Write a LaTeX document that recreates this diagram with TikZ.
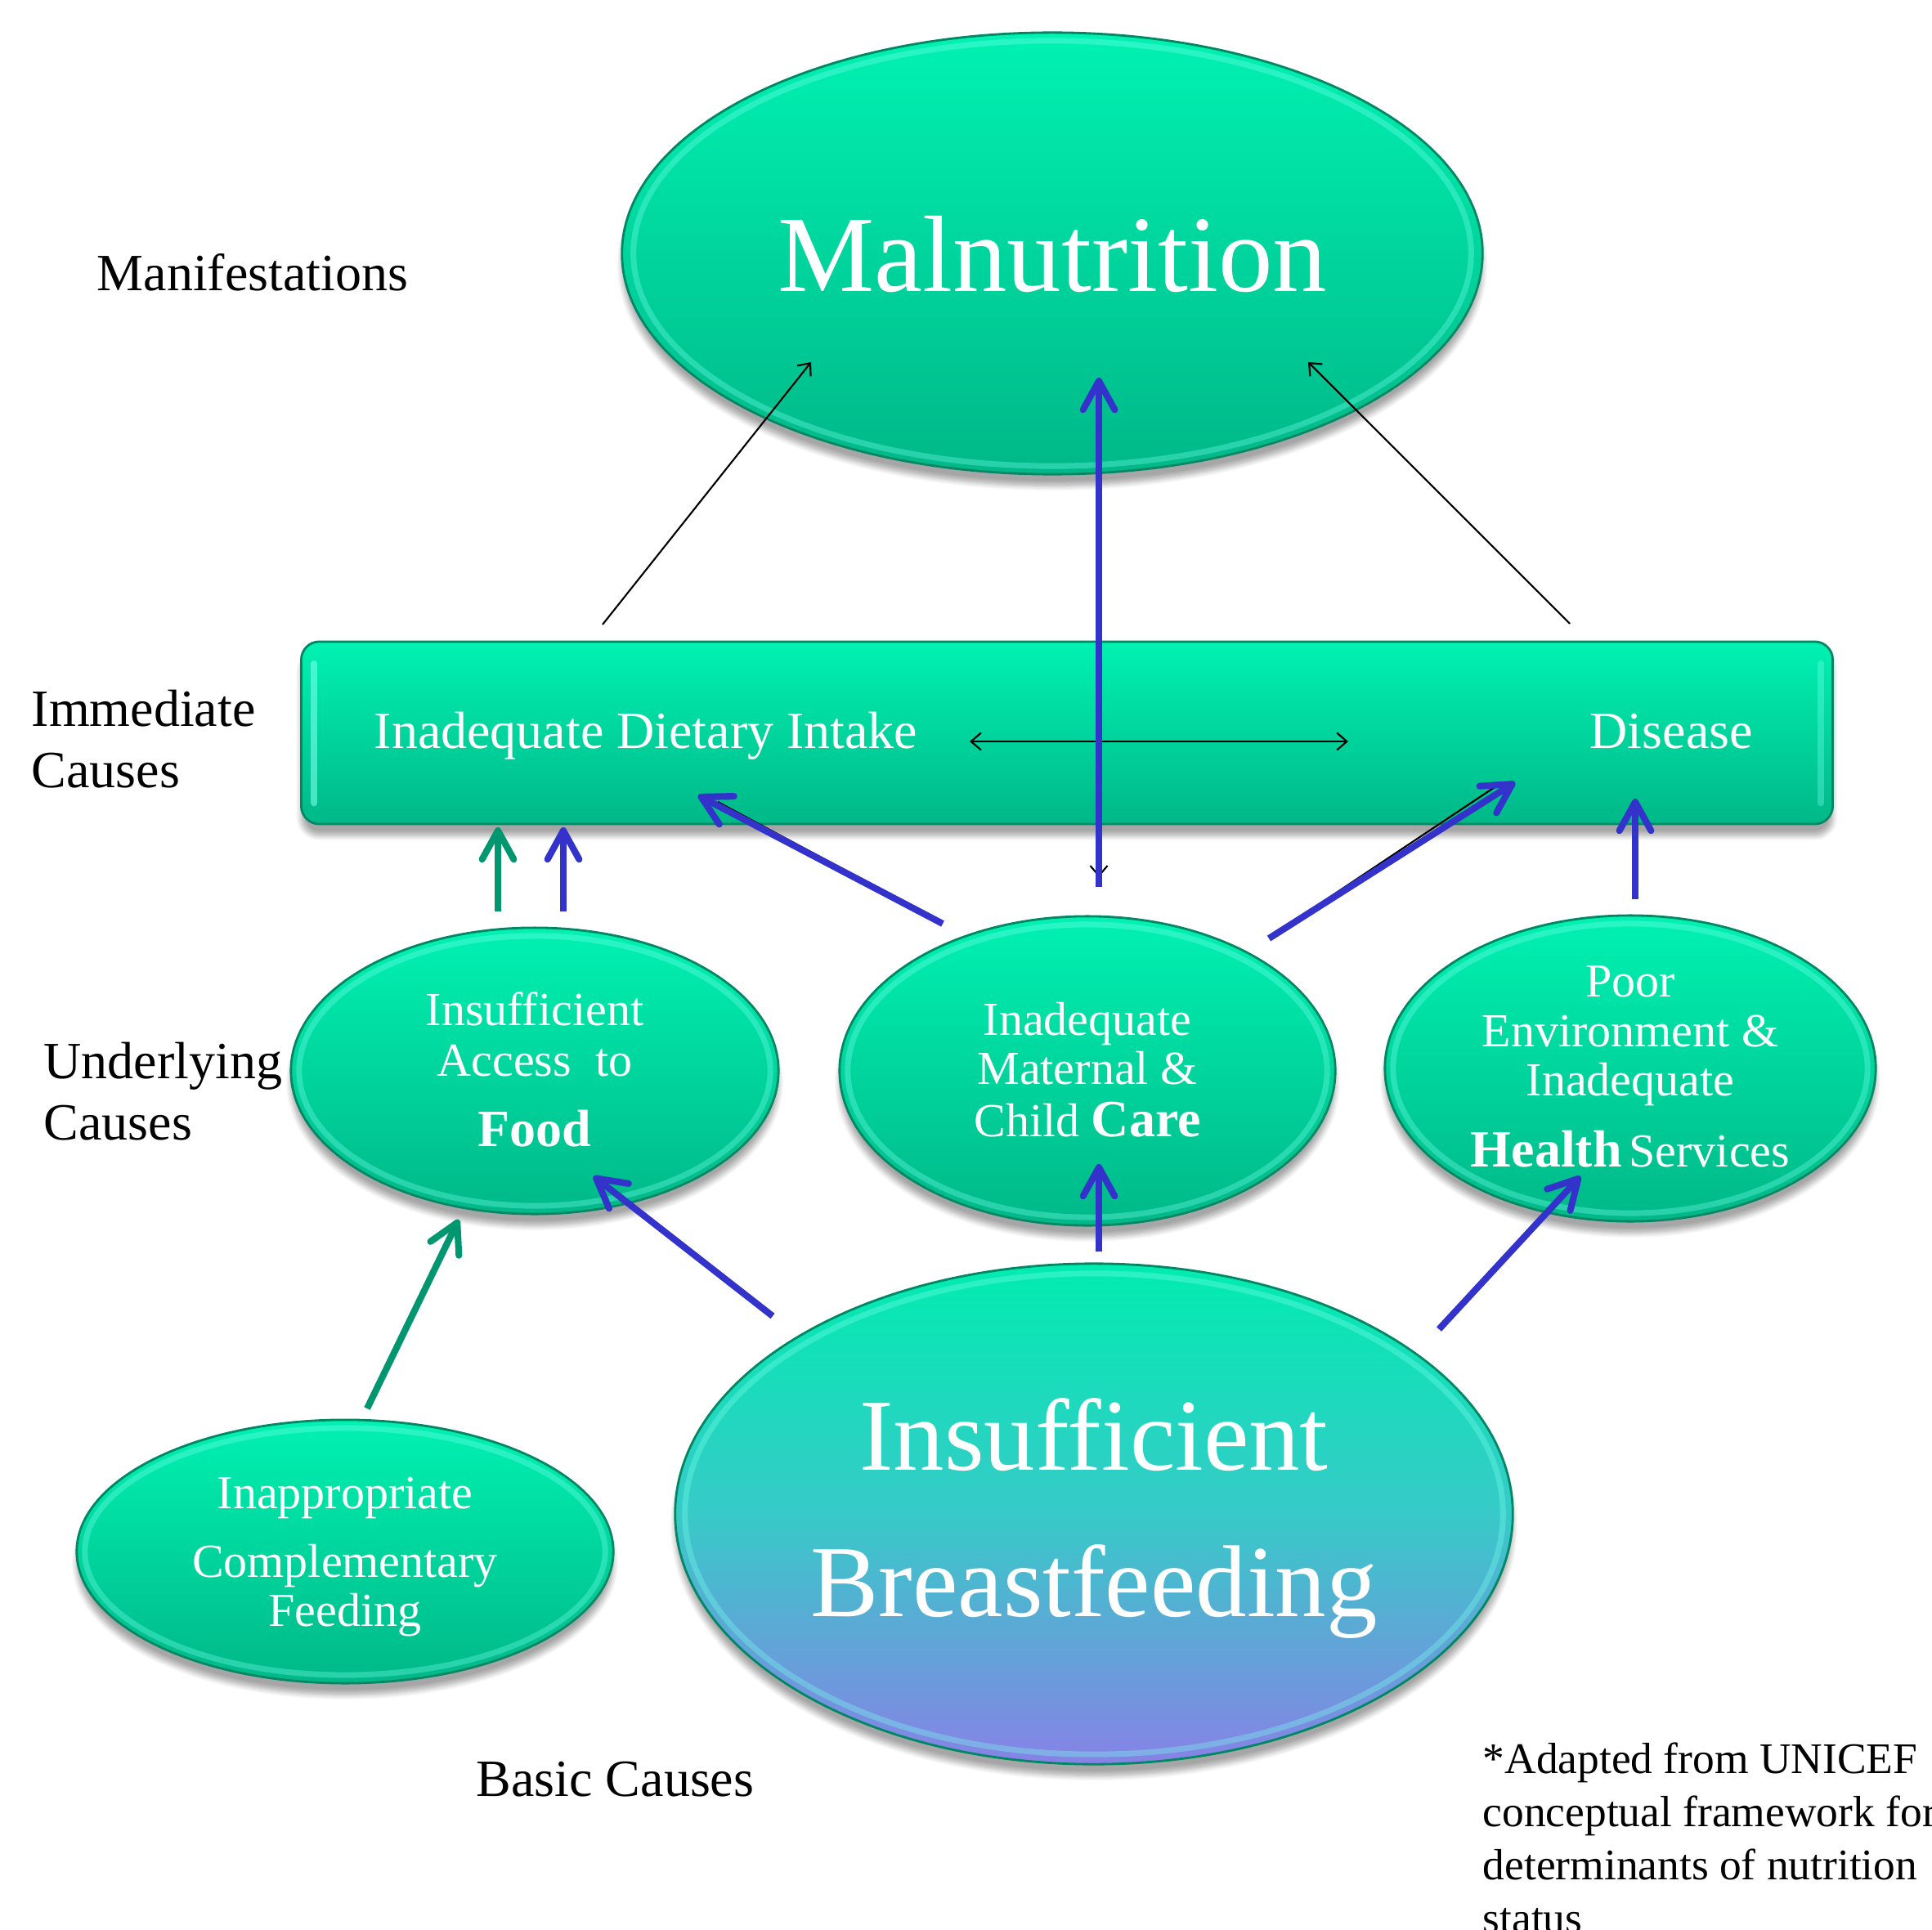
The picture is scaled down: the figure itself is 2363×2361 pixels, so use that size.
\documentclass[tikz,border=0pt]{standalone}
\usepackage{fontspec}
\setmainfont{Liberation Serif}
\usetikzlibrary{shapes.geometric,arrows.meta,shadows.blur}
\definecolor{gtop}{RGB}{0,242,178}
\definecolor{gbot}{RGB}{0,184,136}
\definecolor{rimdark}{RGB}{0,135,100}
\definecolor{rimlight}{RGB}{120,255,235}
\definecolor{arrowblue}{RGB}{51,51,204}
\definecolor{arrowgreen}{RGB}{0,150,112}
\definecolor{btop}{RGB}{0,236,176}
\definecolor{bmid}{RGB}{55,202,200}
\definecolor{bbot}{RGB}{135,130,230}
\newcommand\setfs[1]{\fontsize{#1}{#1}\selectfont}
\newcommand\glint[3]{\draw[rimlight, opacity=0.35, line width=2pt] (#1.center) ellipse [x radius=#2, y radius=#3];}
\begin{document}
\begin{tikzpicture}[x=0.01cm,y=-0.01cm,
  bubble/.style={ellipse, draw=rimdark, line width=0.8pt, top color=gtop, bottom color=gbot, inner sep=0pt,
    blur shadow={shadow xshift=0pt, shadow yshift=-4pt, shadow blur steps=8, shadow opacity=35}},
  boxst/.style={rectangle, rounded corners=0.22cm, draw=rimdark, line width=0.8pt, top color=gtop, bottom color=gbot, inner sep=0pt,
    blur shadow={shadow xshift=0pt, shadow yshift=-4pt, shadow blur steps=8, shadow opacity=35}},
  wt/.style={text=white, inner sep=0pt, anchor=base},
  lbl/.style={text=black, inner sep=0pt, anchor=base west},
  barrow/.style={draw=arrowblue, line width=2.3pt, -{Straight Barb[length=10pt,width=11pt,round]}},
  garrow/.style={draw=arrowgreen, line width=2.3pt, -{Straight Barb[length=10pt,width=11pt,round]}},
  karrow/.style={draw=black, line width=0.6pt, -{Straight Barb[length=3.5pt,width=6pt]}},
  kline/.style={draw=black, line width=0.6pt},
  boxglint/.style={rimlight, opacity=0.6, line width=2.5pt, line cap=round}]
\useasboundingbox (0,0) rectangle (2363,2361);
\clip (0,0) rectangle (2363,2361);

% ---------- shapes ----------
\node[bubble, minimum width=10.52cm, minimum height=5.40cm] (mal) at (1287,310) {};
\glint{mal}{5.12cm}{2.60cm}
\node[boxst, minimum width=18.72cm, minimum height=2.23cm] (imm) at (1305,896.5) {};
\draw[boxglint] (384,812) -- (384,982);
\draw[boxglint, opacity=0.35] (2227,812) -- (2227,982);
\node[bubble, minimum width=5.96cm, minimum height=3.50cm] (food) at (654,1310) {};
\glint{food}{2.88cm}{1.65cm}
\node[bubble, minimum width=6.06cm, minimum height=3.78cm] (care) at (1330,1310) {};
\glint{care}{2.93cm}{1.79cm}
\node[bubble, minimum width=6.00cm, minimum height=3.74cm] (env) at (1994,1307) {};
\glint{env}{2.90cm}{1.77cm}
\node[bubble, minimum width=6.56cm, minimum height=3.22cm] (comp) at (422,1898) {};
\glint{comp}{3.18cm}{1.51cm}
\node[bubble, top color=btop, bottom color=bbot, middle color=bmid, minimum width=10.24cm, minimum height=6.12cm] (bf) at (1338,1852) {};
\glint{bf}{5.00cm}{2.94cm}

% ---------- texts in shapes ----------
\node[wt] (tmal) at (1287,357) {\setfs{37.8}Malnutrition};
\node[wt, anchor=base west] (tdiet) at (457,915) {\setfs{18.2}Inadequate Dietary Intake};
\node[wt, anchor=base west] (tdis) at (1944,915) {\setfs{18.2}Disease};
\node[wt] (tf1) at (654,1254) {\setfs{16.5}Insufficient};
\node[wt] (tf2) at (654,1316) {\setfs{16.5}Access~~to};
\node[wt] (tf3) at (654,1402) {\setfs{18.2}\bfseries Food};
\node[wt] (tc1) at (1330,1266) {\setfs{16.5}Inadequate};
\node[wt] (tc2) at (1330,1326) {\setfs{16.5}Maternal \&};
\node[wt] (tc3) at (1330,1390) {\setfs{16.5}Child {\setfs{18.2}\bfseries Care}};
\node[wt] (te1) at (1994,1219) {\setfs{16.5}Poor};
\node[wt] (te2) at (1994,1280) {\setfs{16.5}Environment \&};
\node[wt] (te3) at (1994,1340) {\setfs{16.5}Inadequate};
\node[wt] (te4) at (1994,1427) {{\setfs{18.2}\bfseries Health} \setfs{16.5}Services};
\node[wt] (tp1) at (422,1845) {\setfs{16.5}Inappropriate};
\node[wt] (tp2) at (422,1929) {\setfs{16.5}Complementary};
\node[wt] (tp3) at (422,1989) {\setfs{16.5}Feeding};
\node[wt] (tb1) at (1338,1798) {\setfs{35.5}Insufficient};
\node[wt] (tb2) at (1338,1977) {\setfs{35.5}Breastfeeding};

% ---------- side labels ----------
\node[lbl] (lman) at (118,356) {\setfs{18.2}Manifestations};
\node[lbl] (limm1) at (38,888) {\setfs{18.2}Immediate};
\node[lbl] (limm2) at (38,963) {\setfs{18.2}Causes};
\node[lbl] (lund1) at (53,1319) {\setfs{18.2}Underlying};
\node[lbl] (lund2) at (53,1394) {\setfs{18.2}Causes};
\node[lbl] (lbas) at (582,2197) {\setfs{18.2}Basic Causes};
\node[lbl] (n1) at (1813,2169) {\setfs{15.2}*Adapted from UNICEF};
\node[lbl] (n2) at (1813,2234) {\setfs{15.2}conceptual framework for};
\node[lbl] (n3) at (1813,2299) {\setfs{15.2}determinants of nutrition};
\node[lbl] (n4) at (1813,2364) {\setfs{15.2}status};

% ---------- connector end points ----------
\coordinate (k1s) at (737,764);   \coordinate (k1e) at (992,443);
\coordinate (k2s) at (1920,763);  \coordinate (k2e) at (1600,443);
\coordinate (k3s) at (1186,907);  \coordinate (k3e) at (1649,907);
\coordinate (vtop) at (1344,462); \coordinate (vbot) at (1344,1085);
\coordinate (vkt) at (1344,470);  \coordinate (vkb) at (1344,1073);
\coordinate (g1s) at (609,1115);  \coordinate (g1e) at (609,1012);
\coordinate (b1s) at (689,1115);  \coordinate (b1e) at (689,1012);
\coordinate (b2s) at (1153,1130); \coordinate (b2e) at (854,973);
\coordinate (k4s) at (1150,1127); \coordinate (k4e) at (878,981);
\coordinate (b3s) at (1552,1148); \coordinate (b3e) at (1853,957);
\coordinate (k5s) at (1555,1145); \coordinate (k5e) at (1837,957);
\coordinate (b4s) at (2000,1100); \coordinate (b4e) at (2000,977);
\coordinate (b6s) at (1344,1531); \coordinate (b6e) at (1344,1424);
\coordinate (b7s) at (945,1610);  \coordinate (b7e) at (726,1439);
\coordinate (b8s) at (1760,1626); \coordinate (b8e) at (1933,1439);
\coordinate (g2s) at (449,1723);  \coordinate (g2e) at (561,1492);

% ---------- connectors ----------
\draw[karrow] (k1s) -- (k1e);
\draw[karrow] (k2s) -- (k2e);
\draw[karrow, {Straight Barb[length=3.5pt,width=6pt]}-{Straight Barb[length=3.5pt,width=6pt]}] (k3s) -- (k3e);
\draw[karrow] (vkt) -- (vkb);
\draw[kline] (k4s) -- (k4e);
\draw[kline] (k5s) -- (k5e);
\draw[barrow] (vbot) -- (vtop);
\draw[garrow] (g1s) -- (g1e);
\draw[barrow] (b1s) -- (b1e);
\draw[barrow] (b2s) -- (b2e);
\draw[barrow] (b3s) -- (b3e);
\draw[barrow] (b4s) -- (b4e);
\draw[barrow] (b6s) -- (b6e);
\draw[barrow] (b7s) -- (b7e);
\draw[barrow] (b8s) -- (b8e);
\draw[garrow] (g2s) -- (g2e);
\end{tikzpicture}
\end{document}
